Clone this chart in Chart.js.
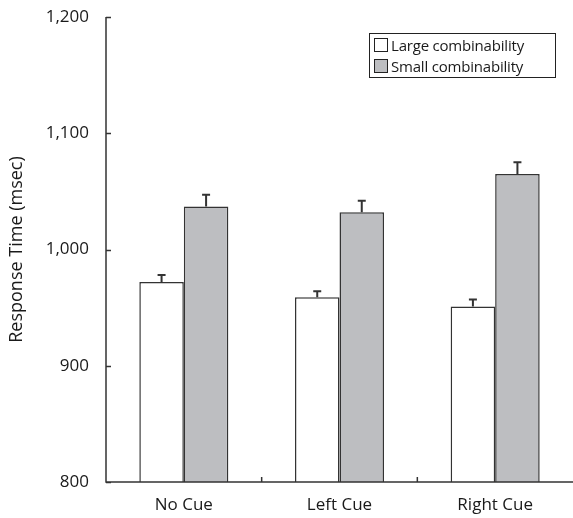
<!DOCTYPE html>
<html>
<head>
<meta charset="utf-8">
<script src="https://cdn.jsdelivr.net/npm/chart.js@4/dist/chart.umd.min.js"></script>
<style>
  html, body { margin: 0; padding: 0; background: #fff; }
  #wrap { position: relative; width: 573px; height: 518px; }
  #legend { position: absolute; left: 369px; top: 33px; width: 185px; height: 43px;
    border: 1px solid #222; font-family: "Open Sans", sans-serif; font-size: 15px; color: #1a1a1a;
    box-sizing: content-box; letter-spacing: -0.2px; }
  #legend .item { display: flex; align-items: center; height: 21.5px; padding-left: 4px; }
  #legend .sw { width: 14px; height: 14px; border: 1px solid #222; margin-right: 3px; box-sizing: border-box; flex: none; }
</style>
</head>
<body>
<div id="wrap">
  <canvas id="c" width="573" height="518"></canvas>
  <div id="legend"></div>
</div>
<script>
const categories = ["No Cue", "Left Cue", "Right Cue"];
const seriesNames = ["Large combinability", "Small combinability"];
const largeValues = [972, 959, 951];
const largeErrors = [6, 5, 6];
const smallValues = [1037, 1032, 1065];
const smallErrors = [10, 10, 10];
const yTicks = [800, 900, 1000, 1100, 1200];

const FONT = '"Open Sans", sans-serif';
const fills = ["#ffffff", "#bdbec1"];

const errorPlugin = {
  id: "errorBars",
  afterDatasetsDraw(chart) {
    const ctx = chart.ctx;
    const y = chart.scales.y;
    ctx.save();
    ctx.strokeStyle = "#333";
    ctx.lineWidth = 2;
    chart.data.datasets.forEach((ds, i) => {
      const meta = chart.getDatasetMeta(i);
      meta.data.forEach((bar, j) => {
        const v = ds.data[j], e = ds.errors[j];
        const yTop = y.getPixelForValue(v + e);
        const yBar = y.getPixelForValue(v);
        ctx.beginPath();
        ctx.moveTo(bar.x, yBar);
        ctx.lineTo(bar.x, yTop);
        ctx.moveTo(bar.x - 4, yTop);
        ctx.lineTo(bar.x + 4, yTop);
        ctx.stroke();
      });
    });
    ctx.restore();
  }
};

const axisPlugin = {
  id: "axesInward",
  afterDraw(chart) {
    const ctx = chart.ctx;
    const x = chart.scales.x, y = chart.scales.y;
    const a = chart.chartArea;
    ctx.save();
    ctx.strokeStyle = "#333";
    ctx.lineWidth = 1.5;
    ctx.beginPath();
    ctx.moveTo(a.left, a.top);
    ctx.lineTo(a.left, a.bottom);
    ctx.lineTo(a.right, a.bottom);
    yTicks.forEach(t => {
      const py = Math.round(y.getPixelForValue(t)) + 0.5;
      ctx.moveTo(a.left, py);
      ctx.lineTo(a.left + 5, py);
    });
    for (let i = 0; i < categories.length; i++) {
      const px = i === 0 ? a.left : (x.getPixelForValue(i - 1) + x.getPixelForValue(i)) / 2;
      ctx.moveTo(px, a.bottom);
      ctx.lineTo(px, a.bottom - 5);
    }
    ctx.stroke();
    ctx.restore();
  }
};

new Chart(document.getElementById("c"), {
  type: "bar",
  data: {
    labels: categories,
    datasets: [
      { label: seriesNames[0], data: largeValues, errors: largeErrors,
        backgroundColor: fills[0], borderColor: "#333", borderWidth: 1.5 },
      { label: seriesNames[1], data: smallValues, errors: smallErrors,
        backgroundColor: fills[1], borderColor: "#333", borderWidth: 1.5 }
    ]
  },
  options: {
    responsive: false,
    animation: false,
    devicePixelRatio: 1,
    layout: { padding: { top: 17, right: 0, left: 0, bottom: 0 } },
    categoryPercentage: 0.572,
    barPercentage: 1.0,
    plugins: { legend: { display: false }, tooltip: { enabled: false } },
    scales: {
      x: {
        grid: { display: false, drawTicks: false },
        border: { display: false },
        ticks: { color: "#1a1a1a", font: { family: FONT, size: 17 }, padding: 13 },
        afterFit(s) { s.height = 36; s.paddingLeft = 0; s.paddingRight = 0; }
      },
      y: {
        min: 800, max: 1200,
        grid: { display: false, drawTicks: false },
        border: { display: false },
        afterBuildTicks(s) { s.ticks = yTicks.map(v => ({ value: v })); },
        ticks: { color: "#1a1a1a", font: { family: FONT, size: 17 }, padding: 17,
          callback: v => v.toLocaleString("en-US") },
        title: { display: true, text: "Response Time (msec)", color: "#1a1a1a",
          font: { family: FONT, size: 18 }, padding: { top: 6, bottom: 0 } },
        afterFit(s) { s.width = 106; s.paddingTop = 0; s.paddingBottom = 0; }
      }
    }
  },
  plugins: [errorPlugin, axisPlugin]
});

const leg = document.getElementById("legend");
seriesNames.forEach((n, i) => {
  const d = document.createElement("div");
  d.className = "item";
  const sw = document.createElement("span");
  sw.className = "sw";
  sw.style.background = fills[i];
  const t = document.createElement("span");
  t.textContent = n;
  d.appendChild(sw); d.appendChild(t);
  leg.appendChild(d);
});
</script>
</body>
</html>
